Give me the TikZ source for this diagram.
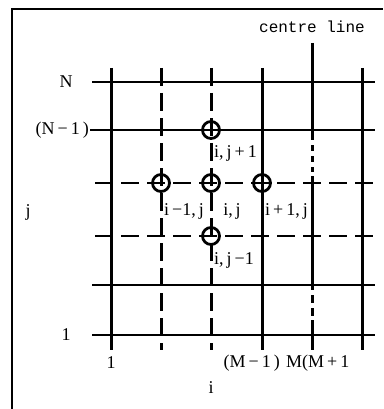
\documentclass[tikz,border=0pt]{standalone}
\usepackage{fontspec}
\setmainfont{Liberation Serif}
\setmonofont{Liberation Mono}
\begin{document}
\begin{tikzpicture}[x=1pt,y=-1pt,
  colsolid/.style={line width=3pt},
  coldash/.style={line width=3pt, dash pattern=on 18pt off 7pt},
  rowsolid/.style={line width=2.4pt},
  rowdash/.style={line width=2.4pt, dash pattern=on 18pt off 8pt},
  meshpt/.style={circle, draw, line width=2.8pt, minimum size=17pt, inner sep=0pt},
  lbl/.style={font={\fontsize{18}{18}\selectfont}, inner sep=0pt}]
\useasboundingbox (0,0) rectangle (383,409);
% frame
\draw[line width=2.2pt] (12,409) -- (12,9) -- (383,9);
% rows
\draw[rowsolid] (92,82) -- (375,82);
\draw[rowsolid] (90,130) -- (375,130);
\draw[rowdash] (95,183) -- (375,183);
\draw[rowdash] (95,236) -- (375,236);
\draw[rowsolid] (92,285) -- (375,285);
\draw[rowsolid] (92,335) -- (375,335);
% columns
\draw[colsolid] (111,68) -- (111,350);
\draw[coldash] (161,68) -- (161,350);
\draw[coldash] (211,68) -- (211,350);
\draw[colsolid] (262,68) -- (262,350);
\draw[colsolid] (312,43) -- (312,140);
\draw[colsolid, dash pattern=on 6pt off 5pt] (312,145) -- (312,172);
\draw[colsolid] (312,176) -- (312,290);
\draw[colsolid, dash pattern=on 8pt off 5pt] (312,295) -- (312,318);
\draw[colsolid] (312,320) -- (312,350);
\draw[colsolid] (362,68) -- (362,350);
% mesh points
\node[meshpt] (top) at (211,130) {};
\node[meshpt] (west) at (161,183) {};
\node[meshpt] (ctr) at (211,183) {};
\node[meshpt] (east) at (262,183) {};
\node[meshpt] (bot) at (211,236) {};
% point labels
\node[lbl, anchor=north west] (ltop) at (214,145) {i,\,j\,+\,1};
\node[lbl, anchor=north west] (lwest) at (164,203) {i\,−1,\,j};
\node[lbl, anchor=north] (lctr) at (232,203) {i,\,j};
\node[lbl, anchor=north west] (least) at (265,203) {i\,+\,1,\,j};
\node[lbl, anchor=north west] (lbot) at (214,252) {i,\,j\,−1};
% axis labels
\node[lbl] (rowN) at (66,82) {N};
\node[lbl, anchor=east] (rowNm) at (89,130) {(N\,−\,1\,)};
\node[lbl] (rowj) at (28,212) {j};
\node[lbl] (row1) at (66,335) {1};
\node[lbl] (col1) at (111,363) {1};
\node[lbl, anchor=east] (colMm) at (280,363) {(M\,−\,1\,)};
\node[lbl, anchor=west] (colM) at (286,363) {M(M\,+\,1};
\node[lbl] (coli) at (211,388) {i};
\node[font={\ttfamily\fontsize{16}{16}\selectfont}, inner sep=0pt] (centre) at (312,27) {centre line};
\end{tikzpicture}
\end{document}
